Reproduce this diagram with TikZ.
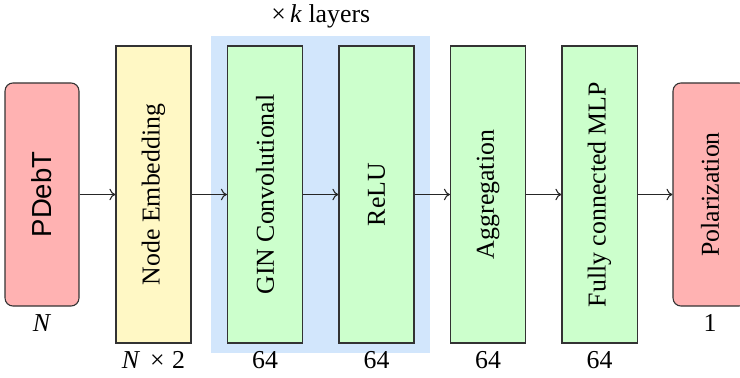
\documentclass[tikz,border=0pt]{standalone}
\usepackage{fontspec}
\setmainfont{Liberation Serif}
\setsansfont{Liberation Sans}
\usetikzlibrary{fit,backgrounds,arrows.meta}
\definecolor{boxyellow}{RGB}{255,248,197}
\definecolor{boxgreen}{RGB}{204,255,204}
\definecolor{boxpink}{RGB}{255,178,178}
\definecolor{bgblue}{RGB}{210,230,252}
\begin{document}
\begin{tikzpicture}[x=0.465pt,y=-0.465pt,
  font=\fontsize{12}{14}\selectfont,
  layerbox/.style={draw=black!80, line width=0.5pt, minimum width=34.9pt, minimum height=138.1pt, inner sep=0pt},
  endbox/.style={draw=black!80, line width=0.5pt, fill=boxpink, rounded corners=3.7pt, minimum width=34.4pt, minimum height=103.7pt, inner sep=0pt},
  flow/.style={-{To[length=2.8pt,width=5.4pt]}, black!85, line width=0.5pt},
  vtext/.style={rotate=90}
]
\useasboundingbox (0,0) rectangle (740,377);
\clip (0,0) rectangle (740,377);

\node[endbox] (in) at (42,194.5) {};
\node[vtext, font=\sffamily\fontsize{12.8}{15}\selectfont] (intxt) at (in.center) {PDebT};
\node[layerbox, fill=boxyellow] (emb) at (153.5,194.5) {};
\node[vtext] (embtxt) at (emb.center) {Node Embedding};
\node[layerbox, fill=boxgreen] (gin) at (265,194.5) {};
\node[vtext] (gintxt) at (gin.center) {GIN Convolutional};
\node[layerbox, fill=boxgreen] (relu) at (376.5,194.5) {};
\node[vtext] (relutxt) at (relu.center) {ReLU};
\node[layerbox, fill=boxgreen] (agg) at (488,194.5) {};
\node[vtext] (aggtxt) at (agg.center) {Aggregation};
\node[layerbox, fill=boxgreen] (mlp) at (599.5,194.5) {};
\node[vtext] (mlptxt) at (mlp.center) {Fully connected MLP};
\node[endbox] (out) at (710,194.5) {};
\node[vtext] (outtxt) at (out.center) {Polarization};

\begin{scope}[on background layer]
\node[fill=bgblue, inner xsep=7.4pt, inner ysep=4.4pt, fit=(gin)(relu)] (bg) {};
\end{scope}

\node[above] (klab) at (bg.north) {×\,\textit{k} layers};

\node[below] (lin) at (in.south) {\textit{N}};
\node[below] (lemb) at (emb.south) {\textit{N}\hspace{4.5pt}×\hspace{3.5pt}2};
\node[below] (lgin) at (gin.south) {64};
\node[below] (lrelu) at (relu.south) {64};
\node[below] (lagg) at (agg.south) {64};
\node[below] (lmlp) at (mlp.south) {64};
\node[below] (lout) at (out.south) {1};

\draw[flow] (in) -- (emb);
\draw[flow] (emb) -- (gin);
\draw[flow] (gin) -- (relu);
\draw[flow] (relu) -- (agg);
\draw[flow] (agg) -- (mlp);
\draw[flow] (mlp) -- (out);
\end{tikzpicture}
\end{document}
